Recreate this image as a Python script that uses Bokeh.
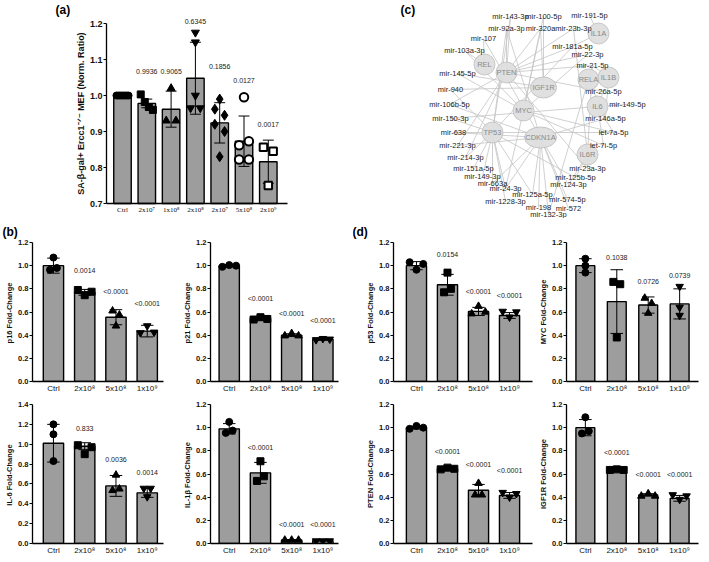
from bokeh.plotting import figure
from bokeh.models import Range1d, FixedTicker, NumeralTickFormatter
from bokeh.layouts import column, row
from bokeh.embed import file_html
from bokeh.resources import INLINE
from bokeh.core.properties import value

FONT = "Liberation Sans"
SERIF = "Liberation Serif"
BAR_FILL = "#9d9d9d"

# ---------------- Panel (a) data ----------------
a_categories = ["Ctrl", "2x10⁷", "1x10⁸", "2x10⁸", "2x10⁷", "5x10⁸", "2x10⁹"]
a_means = [1.0, 0.978, 0.962, 1.048, 0.924, 0.873, 0.816]
a_sds = [0.002, 0.012, 0.05, 0.1, 0.056, 0.07, 0.06]
a_points = [
    [1.0, 1.0, 1.0, 1.0, 1.0, 1.0, 1.0, 1.0],
    [1.003, 0.982, 0.968, 0.96],
    [0.93, 1.02, 0.93],
    [0.965, 1.175, 1.148, 1.0, 0.965],
    [0.92, 0.962, 0.99, 0.83, 0.945, 0.90],
    [0.862, 0.822, 0.995, 0.873, 0.822],
    [0.856, 0.75, 0.845],
]
a_pvals = ["", "0.9936", "0.9065", "0.6345", "0.1856", "0.0127", "0.0017"]
a_pval_y = [0, 1.068, 1.068, 1.205, 1.08, 1.042, 0.92]
a_yticks = [0.7, 0.8, 0.9, 1.0, 1.1, 1.2]
a_ylabel = "SA-β-gal+ Ercc1⁻ᐟ⁻ MEF (Norm. Ratio)"

# ---------------- Panels (b) and (d) data ----------------
dose_categories = ["Ctrl", "2x10⁸", "5x10⁸", "1x10⁹"]
yticks_12 = [0.0, 0.2, 0.4, 0.6, 0.8, 1.0, 1.2]
yticks_14 = [0.0, 0.2, 0.4, 0.6, 0.8, 1.0, 1.2, 1.4]

p16_means = [1.0, 0.77, 0.555, 0.435]
p16_sds = [0.065, 0.025, 0.065, 0.05]
p16_points = [[0.965, 1.07, 0.98], [0.79, 0.745, 0.775], [0.61, 0.48, 0.575], [0.42, 0.48, 0.425]]
p16_pvals = ["", "0.0014", "<0.0001", "<0.0001"]
p16_pval_y = [0, 0.96, 0.78, 0.67]

p21_means = [1.0, 0.545, 0.40, 0.365]
p21_sds = [0.01, 0.012, 0.012, 0.01]
p21_points = [[0.99, 1.005, 1.0], [0.535, 0.555, 0.54], [0.395, 0.415, 0.395], [0.36, 0.37, 0.365]]
p21_pvals = ["", "<0.0001", "<0.0001", "<0.0001"]
p21_pval_y = [0, 0.72, 0.59, 0.53]

il6_means = [1.01, 0.98, 0.58, 0.51]
il6_sds = [0.19, 0.035, 0.105, 0.045]
il6_points = [[1.2, 1.1, 0.83], [0.99, 0.90, 0.97], [0.535, 0.69, 0.55], [0.555, 0.47, 0.555]]
il6_pvals = ["", "0.833", "0.0036", "0.0014"]
il6_pval_y = [0, 1.16, 0.85, 0.72]

il1b_means = [0.99, 0.61, 0.03, 0.025]
il1b_sds = [0.045, 0.09, 0.003, 0.003]
il1b_points = [[0.955, 1.05, 0.975], [0.54, 0.71, 0.58], [0.03, 0.03, 0.03], [0.022, 0.022, 0.022]]
il1b_pvals = ["", "<0.0001", "<0.0001", "<0.0001"]
il1b_pval_y = [0, 0.825, 0.16, 0.16]

p53_means = [1.0, 0.835, 0.605, 0.57]
p53_sds = [0.035, 0.09, 0.035, 0.025]
p53_points = [[1.03, 0.965, 1.015], [0.77, 0.94, 0.80], [0.585, 0.65, 0.60], [0.605, 0.555, 0.60]]
p53_pvals = ["", "0.0154", "<0.0001", "<0.0001"]
p53_pval_y = [0, 1.1, 0.775, 0.74]

myc_means = [1.0, 0.69, 0.66, 0.67]
myc_sds = [0.06, 0.275, 0.07, 0.13]
myc_points = [[1.06, 1.0, 0.94], [0.86, 0.38, 0.84], [0.72, 0.59, 0.675], [0.82, 0.64, 0.57]]
myc_pvals = ["", "0.1038", "0.0726", "0.0739"]
myc_pval_y = [0, 1.07, 0.86, 0.915]

pten_means = [1.0, 0.645, 0.46, 0.415]
pten_sds = [0.012, 0.008, 0.05, 0.025]
pten_points = [[0.99, 1.015, 1.0], [0.64, 0.655, 0.645], [0.42, 0.52, 0.42], [0.44, 0.40, 0.43]]
pten_pvals = ["", "<0.0001", "<0.0001", "<0.0001"]
pten_pval_y = [0, 0.79, 0.68, 0.63]

igf1r_means = [1.0, 0.635, 0.42, 0.39]
igf1r_sds = [0.07, 0.005, 0.01, 0.025]
igf1r_points = [[0.95, 1.09, 0.97], [0.635, 0.64, 0.635], [0.41, 0.43, 0.41], [0.42, 0.38, 0.41]]
igf1r_pvals = ["", "<0.0001", "<0.0001", "<0.0001"]
igf1r_pval_y = [0, 0.785, 0.6, 0.6]

# ---------------- Panel (c) network data (layout coordinates) ----------------
genes = ["IL1A", "REL", "PTEN", "IGF1R", "RELA", "IL1B", "IL6", "MYC", "TP53", "CDKN1A", "IL6R"]
gene_x = [245, 131, 153, 190, 235, 255, 244, 170, 139, 187, 234]
gene_y = [33, 64, 72, 87, 79, 77, 106, 110, 132, 137, 154]

mirnas = ["mir-143-3p", "mir-100-5p", "mir-191-5p", "mir-92a-3p", "mir-320a", "mir-23b-3p",
          "mir-107", "mir-181a-5p", "mir-103a-3p", "mir-22-3p", "mir-21-5p", "mir-145-5p",
          "mir-26a-5p", "mir-940", "mir-149-5p", "mir-106b-5p", "mir-146a-5p", "mir-150-3p",
          "mir-638", "let-7a-5p", "let-7i-5p", "mir-221-3p", "mir-214-3p", "mir-23a-3p",
          "mir-151a-5p", "mir-125b-5p", "mir-149-3p", "mir-124-3p", "mir-663a", "mir-24-3p",
          "mir-125a-5p", "mir-574-5p", "mir-1228-3p", "mir-198", "mir-572", "mir-132-3p"]
mirna_x = [157, 190, 236, 153, 187, 220, 130, 219, 111, 234, 239, 104,
           250, 97, 274, 96, 252, 97, 100, 260, 250, 104, 112, 234,
           120, 222, 129, 215, 139, 152, 179, 214, 152, 185, 215, 195]
mirna_y = [16, 16, 15, 28, 28, 28, 38, 46, 50, 54, 65, 73,
           91, 89, 104, 104, 118, 118, 132, 132, 145, 145, 157, 168,
           168, 177, 176, 184, 183, 188, 194, 199, 201, 207, 208, 214]

edges = [
    ("mir-143-3p", "PTEN"), ("mir-143-3p", "TP53"), ("mir-100-5p", "IGF1R"), ("mir-100-5p", "MYC"),
    ("mir-191-5p", "IL1A"), ("mir-92a-3p", "PTEN"), ("mir-92a-3p", "TP53"), ("mir-92a-3p", "CDKN1A"),
    ("mir-320a", "IGF1R"), ("mir-320a", "PTEN"), ("mir-320a", "MYC"), ("mir-23b-3p", "PTEN"),
    ("mir-23b-3p", "IL6R"), ("mir-107", "REL"), ("mir-107", "CDKN1A"), ("mir-181a-5p", "PTEN"),
    ("mir-181a-5p", "IL1A"), ("mir-181a-5p", "TP53"), ("mir-103a-3p", "REL"), ("mir-103a-3p", "MYC"),
    ("mir-22-3p", "PTEN"), ("mir-22-3p", "MYC"), ("mir-21-5p", "PTEN"), ("mir-21-5p", "RELA"),
    ("mir-21-5p", "IL1B"), ("mir-21-5p", "IL6R"), ("mir-145-5p", "MYC"), ("mir-145-5p", "IGF1R"),
    ("mir-26a-5p", "PTEN"), ("mir-26a-5p", "IL6"), ("mir-940", "IGF1R"), ("mir-940", "TP53"),
    ("mir-149-5p", "IL6"), ("mir-106b-5p", "CDKN1A"), ("mir-106b-5p", "PTEN"), ("mir-146a-5p", "RELA"),
    ("mir-146a-5p", "IL1B"), ("mir-146a-5p", "CDKN1A"), ("mir-150-3p", "TP53"), ("mir-150-3p", "IL6"),
    ("mir-638", "TP53"), ("mir-638", "CDKN1A"), ("let-7a-5p", "MYC"), ("let-7a-5p", "IL6"),
    ("let-7a-5p", "TP53"), ("let-7i-5p", "IL6"), ("let-7i-5p", "MYC"), ("mir-221-3p", "CDKN1A"),
    ("mir-221-3p", "PTEN"), ("mir-214-3p", "PTEN"), ("mir-214-3p", "TP53"), ("mir-23a-3p", "IL6R"),
    ("mir-23a-3p", "PTEN"), ("mir-151a-5p", "TP53"), ("mir-125b-5p", "TP53"), ("mir-125b-5p", "IL6R"),
    ("mir-149-3p", "TP53"), ("mir-124-3p", "CDKN1A"), ("mir-124-3p", "IL6R"), ("mir-663a", "TP53"),
    ("mir-663a", "CDKN1A"), ("mir-24-3p", "TP53"), ("mir-24-3p", "MYC"), ("mir-24-3p", "CDKN1A"),
    ("mir-125a-5p", "TP53"), ("mir-125a-5p", "CDKN1A"), ("mir-574-5p", "CDKN1A"), ("mir-1228-3p", "TP53"),
    ("mir-198", "CDKN1A"), ("mir-572", "CDKN1A"), ("mir-132-3p", "CDKN1A"), ("mir-132-3p", "RELA"),
]


def spread(vals, tol, step, max_span):
    """Beeswarm-like horizontal offsets for points that would overlap."""
    n = len(vals)
    order = sorted(range(n), key=lambda i: vals[i])
    offs = [0.0] * n
    clusters, cur = [], [order[0]]
    for i in order[1:]:
        if vals[i] - vals[cur[-1]] < tol:
            cur.append(i)
        else:
            clusters.append(cur)
            cur = [i]
    clusters.append(cur)
    for c in clusters:
        k = len(c)
        if k == 1:
            continue
        w = min(step * (k - 1), max_span)
        for j, idx in enumerate(sorted(c)):
            offs[idx] = -w / 2 + w * j / (k - 1)
    return offs


def style_axes(p, tick_font, cat_font, ylab_font, cat_family):
    p.outline_line_color = None
    p.grid.visible = False
    p.background_fill_color = "white"
    p.border_fill_color = "white"
    for ax in p.axis:
        ax.axis_line_color = "black"
        ax.axis_line_width = 1.3
        ax.minor_tick_line_color = None
        ax.major_label_text_font = FONT
        ax.axis_label_text_font = FONT
        ax.major_label_text_color = "#111111"
    p.xaxis.major_tick_line_color = None
    p.xaxis.major_tick_out = 0
    p.xaxis.major_tick_in = 0
    p.xaxis.major_label_text_font = cat_family
    p.xaxis.major_label_text_font_size = cat_font
    p.xaxis.major_label_standoff = 2
    p.yaxis.major_tick_out = 3
    p.yaxis.major_tick_in = 0
    p.yaxis.major_tick_line_width = 1.2
    p.yaxis.major_label_text_font_size = tick_font
    p.yaxis.major_label_text_font_style = "bold"
    p.yaxis.major_label_standoff = 1
    p.yaxis.axis_label_text_font_size = ylab_font
    p.yaxis.axis_label_text_font_style = "bold"
    p.yaxis.axis_label_standoff = 1
    p.yaxis.axis_label_text_color = "#111111"


def bar_panel(cats, means, sds, points, pvals, pval_y, ylabel, yticks, x_range, y_range,
              width, height, border, bar_w, cap_w, markers, tol, step, max_span,
              tick_font="7.5px", cat_font="8px", ylab_font="7.5px", p_font="7px",
              cat_family=FONT, letter=None, letter_x=0, fixed_axes=None):
    p = figure(width=width, height=height, x_range=Range1d(*x_range), y_range=Range1d(*y_range),
               output_backend="svg", toolbar_location=None,
               min_border_left=border[0], min_border_right=border[1],
               min_border_top=border[2], min_border_bottom=border[3])
    style_axes(p, tick_font, cat_font, ylab_font, cat_family)
    if letter:
        p.title.text = letter
        p.title.align = "left"
        p.title.offset = letter_x
        p.title.standoff = 8
        p.title.text_font = FONT
        p.title.text_font_size = "12px"
        p.title.text_font_style = "bold"
        p.title.text_color = "black"
    base = fixed_axes[1] if fixed_axes else y_range[0]
    xs = list(range(len(cats)))
    lo = [m - s for m, s in zip(means, sds)]
    hi = [m + s for m, s in zip(means, sds)]
    p.vbar(x=xs, top=means, bottom=base, width=bar_w, fill_color=BAR_FILL,
           line_color="black", line_width=1.4)
    p.segment(x0=xs, y0=lo, x1=xs, y1=hi, line_color="black", line_width=1)
    p.segment(x0=[x - cap_w / 2 for x in xs], y0=hi, x1=[x + cap_w / 2 for x in xs], y1=hi,
              line_color="black", line_width=1)
    p.segment(x0=[x - cap_w / 2 for x in xs], y0=lo, x1=[x + cap_w / 2 for x in xs], y1=lo,
              line_color="black", line_width=1)
    for i, pts in enumerate(points):
        offs = spread(pts, tol, step, max_span)
        mk = markers[i]
        p.scatter(x=[i + o for o in offs], y=pts, marker=mk[0], size=mk[1], fill_color=mk[2],
                  line_color="black", line_width=mk[3])
    px = [i for i, t in enumerate(pvals) if t]
    p.text(x=px, y=[pval_y[i] for i in px], text=[pvals[i] for i in px],
           text_font=value(FONT), text_font_size=p_font, text_align="center",
           text_baseline="middle", text_color="#222222")
    p.xaxis.ticker = FixedTicker(ticks=xs)
    p.xaxis.major_label_overrides = {i: c for i, c in enumerate(cats)}
    p.yaxis.ticker = FixedTicker(ticks=yticks)
    p.yaxis.formatter = NumeralTickFormatter(format="0.0")
    p.yaxis.axis_label = ylabel
    if fixed_axes:
        # axes drawn inside a borderless frame, GraphPad-style with limited extent
        x_at, y_at, x_end, y_top = fixed_axes
        p.yaxis.fixed_location = x_at
        p.xaxis.fixed_location = y_at
        p.yaxis.bounds = (y_at, y_top)
        p.xaxis.bounds = (x_at, x_end)
    return p


# ---------------- Panel (a) ----------------
# frame fills the whole canvas; 24.3 px per category, 360 px per ratio unit
A_W, A_H = 353, 218
A_PX_CAT, A_PX_Y = 24.3, 360.0
A_CTRL_PX, A_TOP_PX = 122, 23          # pixel of first category / of the 1.2 tick
a_x_range = (-A_CTRL_PX / A_PX_CAT, (A_W - A_CTRL_PX) / A_PX_CAT)
a_y_range = (1.2 - (A_H - A_TOP_PX) / A_PX_Y, 1.2 + A_TOP_PX / A_PX_Y)
a_axis_x = (106 - A_CTRL_PX) / A_PX_CAT
a_axis_x_end = (287 - A_CTRL_PX) / A_PX_CAT

a_markers = [("circle", 7, "black", 1), ("square", 7, "black", 1), ("triangle", 8, "black", 1),
             ("inverted_triangle", 8, "black", 1), ("diamond", 10, "black", 1),
             ("circle", 8.5, "white", 2), ("square", 7.5, "white", 2)]
fig_a = bar_panel(a_categories, a_means, a_sds, a_points, a_pvals, a_pval_y, a_ylabel, a_yticks,
                  a_x_range, a_y_range, A_W, A_H, (0, 0, 0, 0), 0.72, 0.45, a_markers,
                  0.022, 0.4, 0.5, tick_font="9px", cat_font="7px", ylab_font="9px",
                  p_font="7px", cat_family=SERIF,
                  fixed_axes=(a_axis_x, 0.7, a_axis_x_end, 1.2))
fig_a.text(x=[(55 - A_CTRL_PX) / A_PX_CAT], y=[1.2 + (A_TOP_PX - 9) / A_PX_Y], text=["(a)"],
           text_font=value(FONT), text_font_size="12px", text_font_style="bold",
           text_align="left", text_baseline="middle", text_color="black")

# ---------------- Panel (c) network ----------------
fig_c = figure(width=356, height=A_H, x_range=Range1d(0, 356), y_range=Range1d(A_H, 0),
               x_axis_type=None, y_axis_type=None, output_backend="svg", toolbar_location=None,
               min_border=0)
fig_c.outline_line_color = None
fig_c.background_fill_color = "white"
gpos = {g: (x, y) for g, x, y in zip(genes, gene_x, gene_y)}
mpos = {m: (x, y) for m, x, y in zip(mirnas, mirna_x, mirna_y)}
fig_c.segment(x0=[mpos[m][0] for m, g in edges], y0=[mpos[m][1] for m, g in edges],
              x1=[gpos[g][0] for m, g in edges], y1=[gpos[g][1] for m, g in edges],
              line_color="#c4c4c4", line_width=0.8)
fig_c.ellipse(x=gene_x, y=gene_y, width=[max(21, 6 * len(g) - 4) for g in genes], height=21,
              fill_color="#dedede", fill_alpha=0.95, line_color="#bdbdbd", line_width=0.8)
fig_c.text(x=gene_x, y=gene_y, text=genes, text_font=value(FONT), text_font_size="7.5px",
           text_align="center", text_baseline="middle", text_color="#8a8a8a")
fig_c.text(x=mirna_x, y=mirna_y, text=mirnas, text_font=value(FONT), text_font_size="7.5px",
           text_align="center", text_baseline="middle", text_color="#222222")
fig_c.text(x=[47], y=[9], text=["(c)"], text_font=value(FONT), text_font_size="12px",
           text_font_style="bold", text_align="left", text_baseline="middle", text_color="black")

# ---------------- Panels (b), (d) ----------------
circ = [("circle", 7, "black", 1), ("square", 7, "black", 1), ("triangle", 7.5, "black", 1),
        ("inverted_triangle", 7.5, "black", 1)]
TOL, STEP, SPAN = 0.06, 0.22, 0.44

fig_p16 = bar_panel(dose_categories, p16_means, p16_sds, p16_points, p16_pvals, p16_pval_y,
                    "p16  Fold-Change", yticks_12, (-0.67, 3.52), (0, 1.2), 180, 181,
                    (32, 17, 23, 18), 0.65, 0.4, circ, TOL, STEP, SPAN, letter="(b)", letter_x=-30)
fig_p21 = bar_panel(dose_categories, p21_means, p21_sds, p21_points, p21_pvals, p21_pval_y,
                    "p21  Fold-Change", yticks_12, (-0.6, 3.5), (0, 1.2), 173, 181,
                    (28, 15, 23, 18), 0.65, 0.4, circ, TOL, STEP, SPAN)
fig_p53 = bar_panel(dose_categories, p53_means, p53_sds, p53_points, p53_pvals, p53_pval_y,
                    "p53  Fold-Change", yticks_12, (-0.74, 3.74), (0, 1.2), 183, 181,
                    (40, 4, 23, 18), 0.65, 0.4, circ, TOL, STEP, SPAN, letter="(d)", letter_x=-41)
fig_myc = bar_panel(dose_categories, myc_means, myc_sds, myc_points, myc_pvals, myc_pval_y,
                    "MYC Fold-Change", yticks_12, (-0.6, 3.6), (0, 1.2), 173, 181,
                    (23, 11, 23, 18), 0.6, 0.4, circ, TOL, STEP, SPAN)

fig_il6 = bar_panel(dose_categories, il6_means, il6_sds, il6_points, il6_pvals, il6_pval_y,
                    "IL-6  Fold-Change", yticks_14, (-0.67, 3.52), (0, 1.4), 180, 163,
                    (32, 17, 5, 19), 0.65, 0.4, circ, 0.07, STEP, SPAN)
fig_il1b = bar_panel(dose_categories, il1b_means, il1b_sds, il1b_points, il1b_pvals, il1b_pval_y,
                     "IL-1β  Fold-Change", yticks_12, (-0.6, 3.5), (0, 1.2), 173, 163,
                     (28, 15, 5, 19), 0.65, 0.4, circ, TOL, STEP, SPAN)
fig_pten = bar_panel(dose_categories, pten_means, pten_sds, pten_points, pten_pvals, pten_pval_y,
                     "PTEN Fold-Change", yticks_12, (-0.74, 3.74), (0, 1.2), 183, 163,
                     (40, 4, 5, 19), 0.65, 0.4, circ, TOL, STEP, SPAN)
fig_igf1r = bar_panel(dose_categories, igf1r_means, igf1r_sds, igf1r_points, igf1r_pvals,
                      igf1r_pval_y, "IGF1R Fold-Change", yticks_12, (-0.6, 3.6), (0, 1.2), 173, 163,
                      (23, 11, 5, 19), 0.6, 0.4, circ, TOL, STEP, SPAN)

page = column(row(fig_a, fig_c),
              row(fig_p16, fig_p21, fig_p53, fig_myc),
              row(fig_il6, fig_il1b, fig_pten, fig_igf1r))

open("out.html", "w").write(file_html(page, INLINE))
